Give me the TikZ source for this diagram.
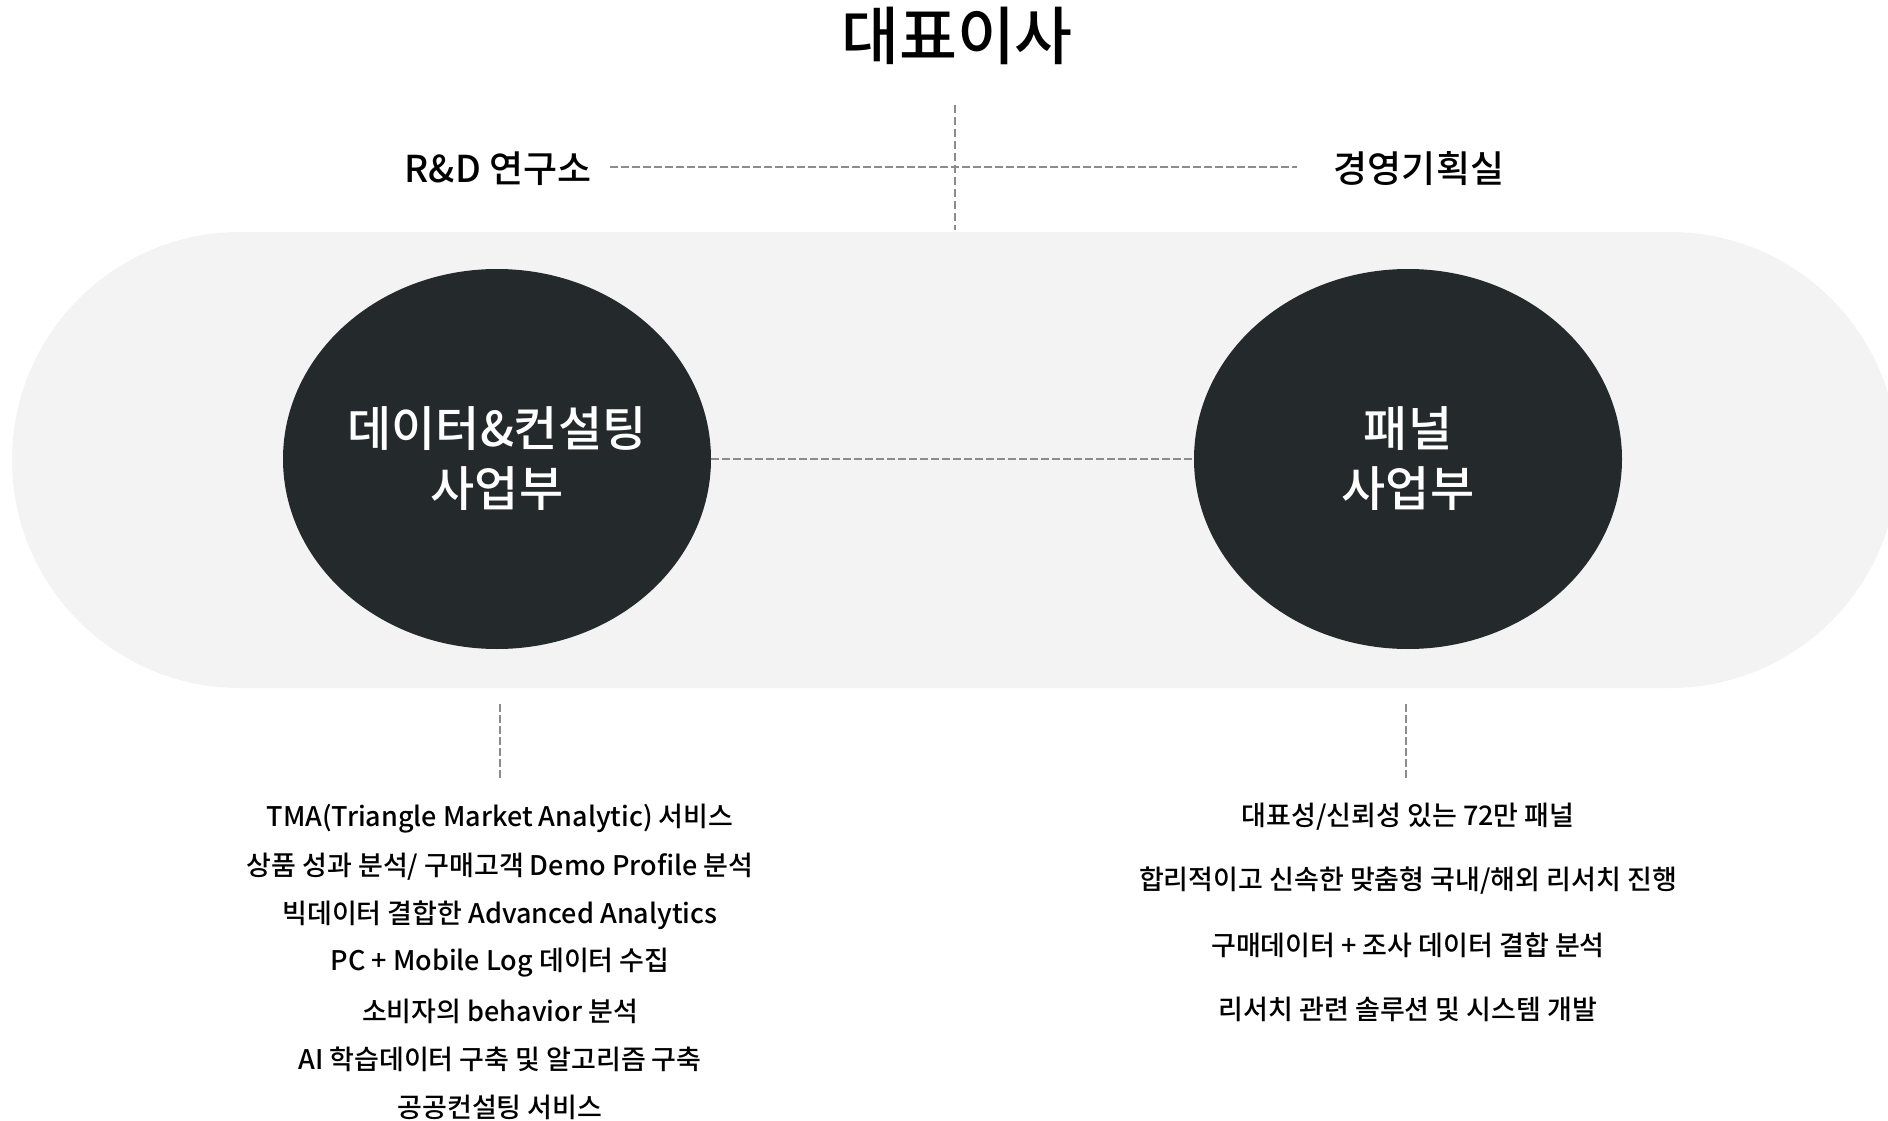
\documentclass[tikz,border=0pt]{standalone}
\usepackage{fontspec}
\setmainfont{Noto Sans CJK KR}[UprightFont={* Medium}]
\usepackage{tikz}
\usetikzlibrary{shapes.geometric,positioning}

\definecolor{unitfill}{HTML}{24292B}
\definecolor{bandfill}{HTML}{F3F3F3}
\definecolor{dashgray}{HTML}{8C8C8C}

\begin{document}
\begin{tikzpicture}[x=1pt,y=-1pt,node distance=48pt]
        \tikzset{
            unit/.style = {ellipse, minimum width=428pt, minimum height=380pt, inner sep=0pt, fill=unitfill, text=white, align=center, font=\fontsize{48}{60}\selectfont},
            office/.style = {inner sep=0pt, font=\fontsize{37}{42}\selectfont},
            item/.style = {inner sep=0pt, font=\fontsize{27}{34}\selectfont},
            link/.style = {draw=dashgray, line width=2pt, dash pattern=on 8pt off 3pt}
        }
        \clip (0,0) rectangle (1888,1121);
        \fill[bandfill, rounded corners=228pt] (12,232) rectangle (1898,688);

        \node (ceo) [inner sep=0pt, font=\fontsize{63}{72}\selectfont] at (957,36) {대표이사};
        \node (rnd) [office] at (498,169) {R\&D 연구소};
        \node (plan) [office] at (1419,169) {경영기획실};
        \coordinate (ceoLine) at (955,105);
        \coordinate (band) at (955,230);
        \coordinate (rndEnd) at (610,167);
        \coordinate (planEnd) at (1297,167);

        \draw [link, dash pattern=on 8pt off 4pt] (ceoLine) -- (band);
        \draw [link] (rndEnd) -- (planEnd);

        \node (dcs) [unit] at (497,459) {데이터\&컨설팅\\사업부};
        \node (panel) [unit] at (1408,459) {패널\\사업부};
        \draw [link] (dcs.east) -- (panel.west);

        % business lines of each unit
        \coordinate (dcsTop) at (500,704);
        \coordinate (dcsBot) at (500,780);
        \coordinate (panelTop) at (1406,704);
        \coordinate (panelBot) at (1406,780);
        \draw [link] (dcsTop) -- (dcsBot);
        \draw [link] (panelTop) -- (panelBot);

        \node (d1) [item] at (500,819) {TMA(Triangle Market Analytic) 서비스};
        \node (d2) [item, below of=d1] {상품 성과 분석/ 구매고객 Demo Profile 분석};
        \node (d3) [item, below of=d2] {빅데이터 결합한 Advanced Analytics};
        \node (d4) [item, below of=d3] {PC + Mobile Log 데이터 수집};
        \node (d5) [item, below of=d4] {소비자의 behavior 분석};
        \node (d6) [item, below of=d5] {AI 학습데이터 구축 및 알고리즘 구축};
        \node (d7) [item, below of=d6] {공공컨설팅 서비스};

        \node (p1) [item] at (1408,817) {대표성/신뢰성 있는 72만 패널};
        \node (p2) [item, below of=p1, yshift=-16pt] {합리적이고 신속한 맞춤형 국내/해외 리서치 진행};
        \node (p3) [item, below of=p2, yshift=-16pt] {구매데이터 + 조사 데이터 결합 분석};
        \node (p4) [item, below of=p3, yshift=-16pt] {리서치 관련 솔루션 및 시스템 개발};

    \end{tikzpicture}
\end{document}
